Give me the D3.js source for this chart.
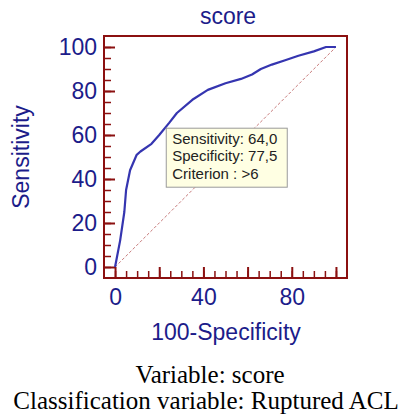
<!DOCTYPE html>
<html>
<head>
<meta charset="utf-8">
<script src="https://cdnjs.cloudflare.com/ajax/libs/d3/7.8.5/d3.min.js"></script>
<style>
  body { margin: 0; background: #fff; }
  svg { display: block; }
</style>
</head>
<body>
<svg id="chart" width="405" height="420"></svg>
<script>
// ROC curve: 100-Specificity (x) vs Sensitivity (y)
var fpr  = [0, 2.3, 4.2, 5, 6.8, 9.8, 11.5, 16.5, 20, 24.5, 28, 35, 42, 50, 57, 62, 66, 71, 77, 83, 90, 95.5, 100];
var sens = [0, 12, 25, 35, 44, 51, 52.5, 56, 60, 65.5, 70, 76, 80.5, 83.5, 85.5, 87.5, 90, 92, 94, 96, 98, 100, 100];
var yTicks = [0, 20, 40, 60, 80, 100];
var xTicks = [0, 20, 40, 60, 80, 100];
var xLabels = [0, 40, 80];
var minorTicks = d3.range(0, 101, 5);
var tipLines = ['Sensitivity: 64,0', 'Specificity: 77,5', 'Criterion : >6'];
var tipPoint = [22.5, 64];

var w = 405, h = 420;
var frame = {left: 104, right: 347, top: 36, bottom: 278};
var red = '#8b1010', navy = '#1c1c8a', blue = '#3535b0';
var sans = '"Liberation Sans", Arial, sans-serif';

var svg = d3.select('#chart');

var scaleX = d3.scaleLinear().domain([-5, 105]).range([frame.left, frame.right]);
var scaleY = d3.scaleLinear().domain([-5, 105]).range([frame.bottom, frame.top]);

// minor ticks
svg.append('g')
    .attr('transform', 'translate(' + frame.left + ',0)')
    .call(d3.axisLeft(scaleY).tickValues(minorTicks).tickSize(-7).tickFormat(''))
    .call(function(g){ g.select('.domain').remove(); g.selectAll('line').attr('stroke', red).attr('stroke-width', 1.5); });
svg.append('g')
    .attr('transform', 'translate(0,' + frame.bottom + ')')
    .call(d3.axisBottom(scaleX).tickValues(minorTicks).tickSize(-7).tickFormat(''))
    .call(function(g){ g.select('.domain').remove(); g.selectAll('line').attr('stroke', red).attr('stroke-width', 1.5); });

// major ticks + labels
svg.append('g')
    .attr('transform', 'translate(' + frame.left + ',0)')
    .call(d3.axisLeft(scaleY).tickValues(yTicks).tickSize(-11).tickPadding(7))
    .call(function(g){
      g.select('.domain').remove();
      g.selectAll('line').attr('stroke', red).attr('stroke-width', 2);
      g.selectAll('text').attr('fill', navy).style('font', '23px ' + sans);
    });
svg.append('g')
    .attr('transform', 'translate(0,' + frame.bottom + ')')
    .call(d3.axisBottom(scaleX).tickValues(xTicks).tickSize(-11).tickPadding(11)
      .tickFormat(function(d){ return xLabels.indexOf(d) >= 0 ? d : ''; }))
    .call(function(g){
      g.select('.domain').remove();
      g.selectAll('line').attr('stroke', red).attr('stroke-width', 2);
      g.selectAll('text').attr('fill', navy).style('font', '23px ' + sans);
    });

// diagonal reference line
svg.append('line')
    .attr('x1', scaleX(0)).attr('y1', scaleY(0))
    .attr('x2', scaleX(100)).attr('y2', scaleY(100))
    .attr('stroke', '#c77b7b').attr('stroke-width', 1)
    .attr('stroke-dasharray', '3,2');

// ROC curve
var line = d3.line()
    .x(function(d){ return scaleX(d[0]); })
    .y(function(d){ return scaleY(d[1]); });
svg.append('path')
    .datum(d3.zip(fpr, sens))
    .attr('d', line)
    .attr('fill', 'none')
    .attr('stroke', blue)
    .attr('stroke-width', 2.2)
    .attr('stroke-linejoin', 'round');

// frame
svg.append('rect')
    .attr('x', frame.left).attr('y', frame.top)
    .attr('width', frame.right - frame.left).attr('height', frame.bottom - frame.top)
    .attr('fill', 'none').attr('stroke', red).attr('stroke-width', 2);

// tooltip box
var tx = scaleX(tipPoint[0]) + 1.5, ty = scaleY(tipPoint[1]) + 2;
var tip = svg.append('g').attr('transform', 'translate(' + tx + ',' + ty + ')');
tip.append('rect')
    .attr('width', 121).attr('height', 59)
    .attr('fill', '#ffffe3').attr('stroke', '#9a9a9a').attr('stroke-width', 1);
tip.selectAll('text').data(tipLines).enter().append('text')
    .attr('x', 6)
    .attr('y', function(d, i){ return 15.5 + i * 17.5; })
    .attr('fill', '#222')
    .style('font', '15px ' + sans)
    .text(function(d){ return d; });

// titles
svg.append('text')
    .attr('x', 228).attr('y', 24)
    .attr('text-anchor', 'middle').attr('fill', navy)
    .style('font', '23px ' + sans)
    .text('score');
svg.append('text')
    .attr('transform', 'translate(29,157) rotate(-90)')
    .attr('text-anchor', 'middle').attr('fill', navy)
    .style('font', '23px ' + sans)
    .text('Sensitivity');
svg.append('text')
    .attr('x', 226).attr('y', 340)
    .attr('text-anchor', 'middle').attr('fill', navy)
    .style('font', '23px ' + sans)
    .text('100-Specificity');

// caption
svg.append('text')
    .attr('x', 210).attr('y', 383)
    .attr('text-anchor', 'middle').attr('fill', '#000')
    .style('font', '25px "Liberation Serif", "Times New Roman", serif')
    .text('Variable: score');
svg.append('text')
    .attr('x', 206).attr('y', 409)
    .attr('text-anchor', 'middle').attr('fill', '#000')
    .style('font', '25px "Liberation Serif", "Times New Roman", serif')
    .text('Classification variable: Ruptured ACL');
</script>
</body>
</html>
